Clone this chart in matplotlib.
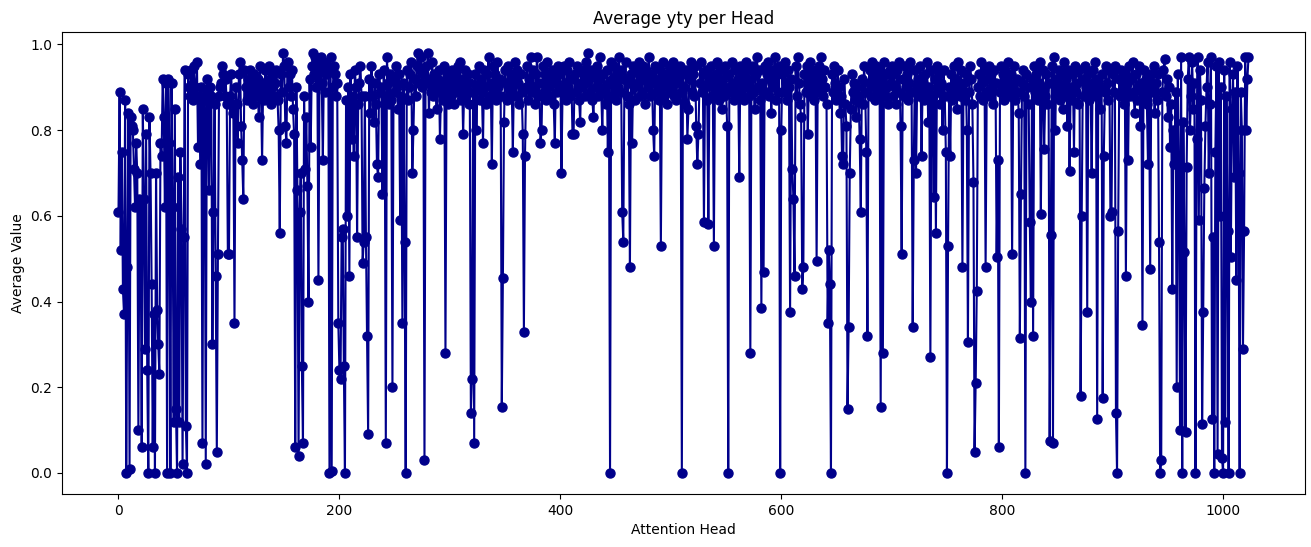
import numpy as np
import matplotlib
matplotlib.use("Agg")
import matplotlib.pyplot as plt

# average value per attention head
vals_000 = [0.61, 0.89, 0.52, 0.75, 0.43, 0.37, 0.87, 0.00, 0.48, 0.84, 0.01, 0.83, 0.81, 0.80, 0.71, 0.62,
            0.77, 0.70, 0.10, 0.64, 0.62, 0.06, 0.85, 0.64, 0.29, 0.79, 0.24, 0.00, 0.83, 0.70, 0.44, 0.06,
            0.37, 0.00, 0.70, 0.38, 0.30, 0.23, 0.77, 0.74, 0.92, 0.83, 0.62, 0.91, 0.00, 0.92, 0.77, 0.00,
            0.91, 0.62, 0.12, 0.85, 0.15, 0.00, 0.69, 0.12, 0.75, 0.57, 0.02, 0.55, 0.94, 0.11, 0.00, 0.93,
            0.90, 0.88, 0.94, 0.87, 0.95, 0.90, 0.88, 0.96, 0.76, 0.88, 0.72, 0.90, 0.07, 0.87, 0.88, 0.02,
            0.92, 0.89, 0.66, 0.90, 0.88, 0.30, 0.61, 0.86, 0.46, 0.05, 0.51, 0.88, 0.90, 0.91, 0.95, 0.93,
            0.88, 0.92, 0.86, 0.51]
vals_100 = [0.51, 0.88, 0.93, 0.86, 0.84, 0.35, 0.90, 0.86, 0.77, 0.93, 0.96, 0.81, 0.73, 0.64, 0.94, 0.90,
            0.87, 0.92, 0.88, 0.94, 0.89, 0.91, 0.86, 0.93, 0.90, 0.88, 0.92, 0.83, 0.95, 0.89, 0.73, 0.91,
            0.87, 0.94, 0.90, 0.88, 0.95, 0.92, 0.86, 0.90, 0.93, 0.88, 0.91, 0.94, 0.87, 0.80, 0.56, 0.93,
            0.89, 0.98, 0.95, 0.81, 0.77, 0.96, 0.90, 0.93, 0.88, 0.94, 0.85, 0.79, 0.06, 0.90, 0.66, 0.04,
            0.61, 0.70, 0.25, 0.07, 0.88, 0.71, 0.83, 0.67, 0.40, 0.92, 0.76, 0.95, 0.98, 0.93, 0.97, 0.90,
            0.96, 0.45, 0.94, 0.97, 0.91, 0.73, 0.96, 0.89, 0.93, 0.95, 0.94, 0.00, 0.97, 0.005, 0.90, 0.95,
            0.93, 0.88, 0.91, 0.35]
vals_200 = [0.24, 0.22, 0.55, 0.57, 0.25, 0.00, 0.87, 0.60, 0.90, 0.46, 0.93, 0.78, 0.88, 0.74, 0.94, 0.90,
            0.55, 0.86, 0.91, 0.95, 0.88, 0.49, 0.54, 0.88, 0.55, 0.32, 0.09, 0.92, 0.84, 0.95, 0.88, 0.82,
            0.91, 0.86, 0.72, 0.69, 0.93, 0.89, 0.90, 0.65, 0.94, 0.88, 0.07, 0.97, 0.91, 0.86, 0.93, 0.87,
            0.20, 0.92, 0.89, 0.95, 0.90, 0.85, 0.93, 0.59, 0.88, 0.35, 0.91, 0.54, 0.00, 0.94, 0.87, 0.90,
            0.93, 0.96, 0.70, 0.80, 0.92, 0.88, 0.95, 0.98, 0.91, 0.94, 0.97, 0.90, 0.93, 0.03, 0.95, 0.91,
            0.98, 0.84, 0.92, 0.89, 0.96, 0.88, 0.93, 0.90, 0.85, 0.92, 0.94, 0.78, 0.89, 0.91, 0.87, 0.95,
            0.28, 0.93, 0.86, 0.90]
vals_300 = [0.92, 0.88, 0.94, 0.90, 0.86, 0.93, 0.89, 0.95, 0.91, 0.96, 0.87, 0.92, 0.79, 0.90, 0.94, 0.88,
            0.93, 0.86, 0.91, 0.14, 0.22, 0.89, 0.07, 0.93, 0.80, 0.90, 0.95, 0.87, 0.92, 0.89, 0.77, 0.94,
            0.90, 0.86, 0.93, 0.97, 0.88, 0.91, 0.72, 0.95, 0.89, 0.93, 0.87, 0.96, 0.90, 0.92, 0.88, 0.155,
            0.455, 0.82, 0.94, 0.91, 0.87, 0.95, 0.89, 0.93, 0.90, 0.75, 0.92, 0.96, 0.88, 0.94, 0.91, 0.86,
            0.93, 0.89, 0.79, 0.33, 0.74, 0.90, 0.95, 0.87, 0.92, 0.97, 0.89, 0.94, 0.90, 0.86, 0.93, 0.97,
            0.88, 0.91, 0.77, 0.80, 0.95, 0.89, 0.93, 0.87, 0.96, 0.90, 0.92, 0.88, 0.94, 0.91, 0.86, 0.77,
            0.93, 0.89, 0.95, 0.90]
vals_400 = [0.93, 0.70, 0.89, 0.95, 0.91, 0.87, 0.94, 0.90, 0.96, 0.88, 0.92, 0.79, 0.79, 0.93, 0.89, 0.95,
            0.91, 0.87, 0.82, 0.94, 0.90, 0.93, 0.88, 0.96, 0.91, 0.98, 0.92, 0.89, 0.94, 0.87, 0.83, 0.93,
            0.90, 0.95, 0.88, 0.92, 0.97, 0.89, 0.80, 0.93, 0.90, 0.86, 0.94, 0.75, 0.91, 0.00, 0.96, 0.92,
            0.88, 0.95, 0.87, 0.93, 0.90, 0.97, 0.89, 0.94, 0.61, 0.54, 0.92, 0.96, 0.88, 0.91, 0.86, 0.48,
            0.93, 0.77, 0.95, 0.90, 0.87, 0.94, 0.91, 0.96, 0.88, 0.93, 0.89, 0.95, 0.92, 0.86, 0.94, 0.90,
            0.97, 0.88, 0.93, 0.91, 0.80, 0.74, 0.95, 0.89, 0.92, 0.87, 0.94, 0.53, 0.90, 0.96, 0.88, 0.93,
            0.91, 0.86, 0.95, 0.89]
vals_500 = [0.93, 0.90, 0.96, 0.88, 0.92, 0.87, 0.94, 0.91, 0.95, 0.89, 0.00, 0.93, 0.90, 0.86, 0.94, 0.78,
            0.85, 0.92, 0.96, 0.89, 0.93, 0.88, 0.95, 0.81, 0.72, 0.79, 0.91, 0.96, 0.89, 0.93, 0.585, 0.90,
            0.94, 0.87, 0.58, 0.92, 0.95, 0.88, 0.91, 0.53, 0.93, 0.89, 0.96, 0.90, 0.87, 0.94, 0.85, 0.92,
            0.88, 0.95, 0.90, 0.81, 0.00, 0.93, 0.89, 0.96, 0.91, 0.87, 0.88, 0.94, 0.90, 0.92, 0.69, 0.95,
            0.89, 0.93, 0.87, 0.91, 0.96, 0.90, 0.94, 0.88, 0.28, 0.92, 0.95, 0.89, 0.85, 0.93, 0.97, 0.90,
            0.94, 0.87, 0.385, 0.91, 0.47, 0.95, 0.89, 0.93, 0.96, 0.88, 0.92, 0.84, 0.94, 0.90, 0.97, 0.87,
            0.93, 0.89, 0.95, 0.00]
vals_600 = [0.80, 0.93, 0.89, 0.96, 0.91, 0.87, 0.94, 0.90, 0.375, 0.92, 0.71, 0.64, 0.46, 0.95, 0.88, 0.97,
            0.91, 0.86, 0.83, 0.43, 0.48, 0.93, 0.89, 0.95, 0.79, 0.92, 0.96, 0.88, 0.94, 0.90, 0.87, 0.93,
            0.495, 0.91, 0.95, 0.89, 0.97, 0.92, 0.88, 0.94, 0.90, 0.86, 0.35, 0.52, 0.44, 0.00, 0.93, 0.89,
            0.95, 0.91, 0.87, 0.94, 0.90, 0.84, 0.88, 0.74, 0.72, 0.92, 0.86, 0.81, 0.15, 0.34, 0.70, 0.85,
            0.93, 0.89, 0.91, 0.87, 0.83, 0.90, 0.88, 0.78, 0.61, 0.92, 0.86, 0.95, 0.89, 0.75, 0.32, 0.91,
            0.94, 0.88, 0.96, 0.90, 0.93, 0.87, 0.95, 0.91, 0.89, 0.94, 0.155, 0.92, 0.28, 0.96, 0.88, 0.93,
            0.90, 0.86, 0.94, 0.91]
vals_700 = [0.95, 0.88, 0.93, 0.90, 0.86, 0.94, 0.89, 0.96, 0.81, 0.51, 0.92, 0.88, 0.95, 0.90, 0.93, 0.87,
            0.91, 0.96, 0.89, 0.34, 0.73, 0.94, 0.70, 0.90, 0.92, 0.88, 0.95, 0.74, 0.91, 0.87, 0.93, 0.89,
            0.96, 0.82, 0.90, 0.27, 0.94, 0.88, 0.645, 0.92, 0.56, 0.95, 0.89, 0.93, 0.86, 0.91, 0.80, 0.94,
            0.88, 0.75, 0.00, 0.53, 0.90, 0.74, 0.93, 0.87, 0.95, 0.89, 0.92, 0.85, 0.96, 0.90, 0.88, 0.94,
            0.48, 0.91, 0.87, 0.93, 0.80, 0.305, 0.89, 0.95, 0.92, 0.86, 0.68, 0.05, 0.21, 0.425, 0.90, 0.93,
            0.88, 0.96, 0.91, 0.87, 0.94, 0.48, 0.89, 0.92, 0.95, 0.88, 0.93, 0.90, 0.86, 0.94, 0.91, 0.505,
            0.73, 0.06, 0.89, 0.95]
vals_800 = [0.90, 0.93, 0.87, 0.94, 0.89, 0.96, 0.91, 0.88, 0.93, 0.51, 0.90, 0.95, 0.87, 0.92, 0.89, 0.84,
            0.315, 0.65, 0.91, 0.94, 0.88, 0.00, 0.93, 0.90, 0.86, 0.585, 0.40, 0.92, 0.32, 0.95, 0.89, 0.93,
            0.87, 0.91, 0.96, 0.605, 0.90, 0.94, 0.755, 0.88, 0.93, 0.86, 0.91, 0.075, 0.555, 0.95, 0.07, 0.97,
            0.80, 0.92, 0.89, 0.94, 0.87, 0.93, 0.90, 0.85, 0.96, 0.88, 0.92, 0.81, 0.94, 0.705, 0.90, 0.87,
            0.93, 0.75, 0.95, 0.89, 0.91, 0.86, 0.94, 0.18, 0.60, 0.92, 0.88, 0.95, 0.90, 0.375, 0.93, 0.87,
            0.91, 0.70, 0.94, 0.89, 0.96, 0.88, 0.125, 0.92, 0.90, 0.85, 0.93, 0.175, 0.74, 0.89, 0.95, 0.91,
            0.87, 0.94, 0.60, 0.61]
vals_900 = [0.93, 0.89, 0.95, 0.14, 0.00, 0.565, 0.92, 0.88, 0.94, 0.90, 0.86, 0.93, 0.46, 0.91, 0.73, 0.95,
            0.88, 0.92, 0.96, 0.89, 0.84, 0.93, 0.87, 0.90, 0.95, 0.81, 0.91, 0.345, 0.94, 0.88, 0.92, 0.86,
            0.72, 0.90, 0.475, 0.93, 0.89, 0.95, 0.84, 0.91, 0.87, 0.93, 0.54, 0.00, 0.03, 0.89, 0.94, 0.965,
            0.88, 0.92, 0.83, 0.90, 0.76, 0.86, 0.43, 0.80, 0.72, 0.89, 0.20, 0.93, 0.72, 0.10, 0.97, 0.00,
            0.82, 0.515, 0.095, 0.715, 0.92, 0.97, 0.80, 0.88, 0.96, 0.85, 0.91, 0.00, 0.78, 0.97, 0.59, 0.94,
            0.87, 0.115, 0.375, 0.665, 0.81, 0.90, 0.96, 0.70, 0.86, 0.97, 0.125, 0.55, 0.00, 0.75, 0.95, 0.045,
            0.96, 0.60, 0.90, 0.035, 0.00, 0.94, 0.12, 0.88, 0.565, 0.00, 0.96, 0.505, 0.85, 0.93, 0.69, 0.89,
            0.45, 0.95, 0.70, 0.00, 0.89, 0.80, 0.29, 0.565, 0.97, 0.80, 0.92, 0.97]

avg_values = (vals_000 + vals_100 + vals_200 + vals_300 + vals_400 +
              vals_500 + vals_600 + vals_700 + vals_800 + vals_900)
heads = np.arange(len(avg_values))

fig = plt.figure(figsize=(13.11, 5.47), dpi=100)
ax = fig.add_axes([62 / 1311, 1 - 494 / 547, (1305 - 62) / 1311, (494 - 32) / 547])
ax.plot(heads, avg_values, marker='o', color='darkblue', markersize=6.5, linewidth=1.5)
ax.set_title('Average yty per Head')
ax.set_xlabel('Attention Head')
ax.set_ylabel('Average Value')

plt.savefig('out.png', dpi=100)
